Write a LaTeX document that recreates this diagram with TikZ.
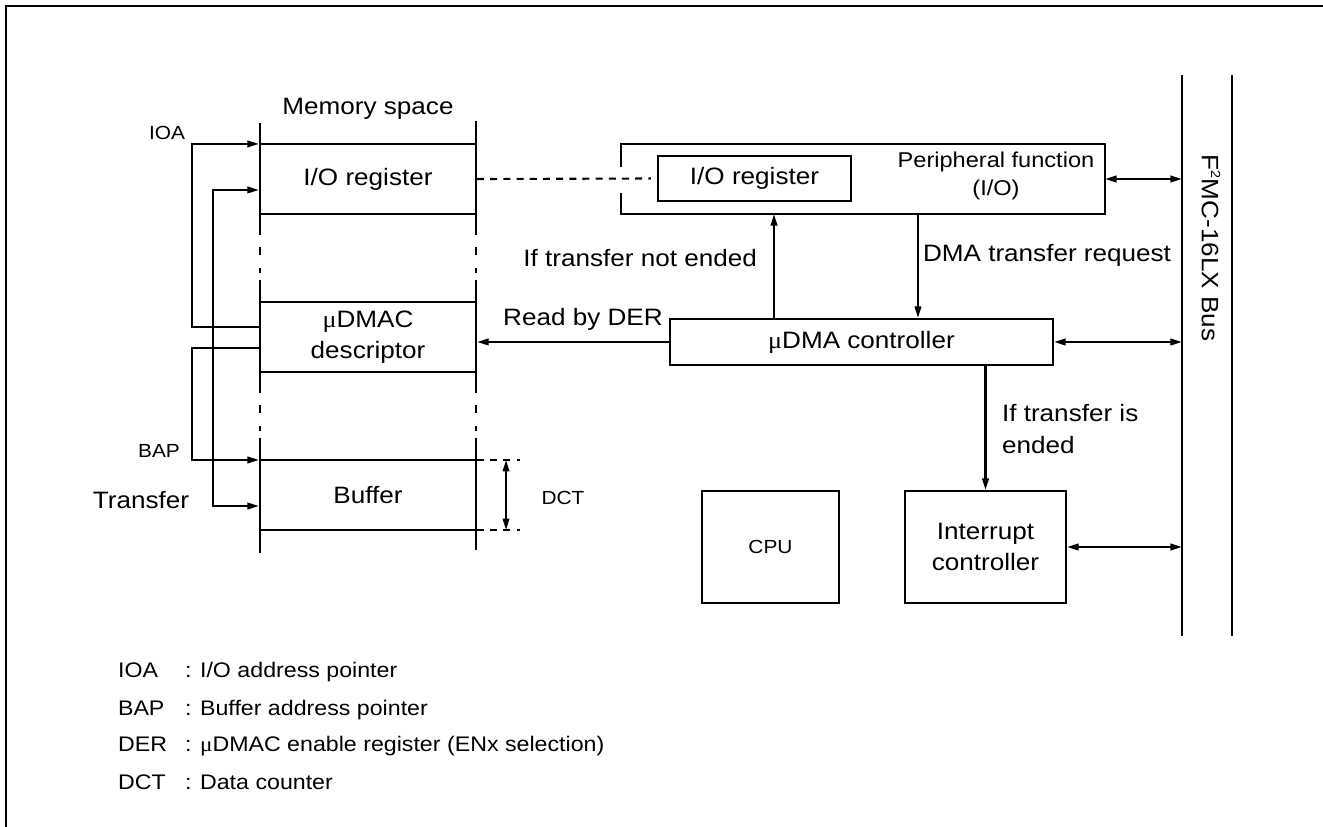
\documentclass[tikz,border=0pt]{standalone}
\usepackage{fontspec}
\setmainfont[FakeStretch=1.1]{Liberation Sans}
\newfontfamily\greekmu[FakeStretch=1.1]{Liberation Serif}
\usetikzlibrary{arrows.meta}
\newcommand{\umu}{{\greekmu μ}}
\tikzset{
  >={Triangle[length=2.3mm,width=1.3mm]},
  txt/.style={inner sep=0pt, align=center, font=\fontsize{13.5}{17.8}\selectfont},
  smalltxt/.style={inner sep=0pt, font=\fontsize{10.8}{13}\selectfont},
  legendtxt/.style={inner sep=0pt, anchor=base west, font=\fontsize{12}{14}\selectfont},
  box/.style={draw, inner sep=0pt, align=center, font=\fontsize{13.5}{17.8}\selectfont},
  memrow/.style={minimum width=4.32cm, minimum height=1.36cm, inner sep=0pt, align=center, font=\fontsize{13.5}{17.8}\selectfont},
  dashpat/.style={dash pattern=on 4pt off 3.5pt},
  breakpat/.style={dash pattern=on 0pt off 6.8pt on 4.5pt off 7.4pt on 2.8pt off 4pt}
}
\begin{document}
\begin{tikzpicture}[x=0.02cm, y=-0.02cm, line width=1.2pt]
\useasboundingbox (0,0) rectangle (1323,827);
\draw[line width=1.7pt] (1323,6) -- (6,6) -- (6,827);

% memory space
\node[txt] (memspace) at (368,109) {Memory space};
\node[memrow] (memio) at (368,179) {I/O register};
\node[memrow] (memdesc) at (368,337) {\umu DMAC\\descriptor};
\node[memrow] (membuf) at (368,495) {Buffer};
\foreach \n in {memio,memdesc,membuf}
  \draw (\n.north west) -- (\n.north east) (\n.south west) -- (\n.south east);
\foreach \x/\top/\bot in {260/123/553, 476/121/550} {
  \draw[line width=1.4pt] (\x,\top) -- (\x,235) (\x,280) -- (\x,393) (\x,438) -- (\x,\bot);
  \draw[line width=1.4pt, breakpat] (\x,235) -- (\x,280) (\x,393) -- (\x,438);
}

% pointers
\node[smalltxt] (ioa) at (167,133) {IOA};
\node[smalltxt] (bap) at (159,451) {BAP};
\node[txt] (transfer) at (141,500) {Transfer};
\draw[->] ([yshift=0.2cm]memdesc.west) -- ++(-67,0) |- (memio.north west);
\draw[->] ([yshift=-0.22cm]memdesc.west) -- ++(-67,0) |- (membuf.north west);
\draw[<->] ([yshift=-0.22cm]memio.west) -- ++(-46,0) |- ([yshift=-0.22cm]membuf.west);

% data counter
\draw[dashpat] (membuf.north east) -- ++(43,0) (membuf.south east) -- ++(43,0);
\draw[<->] ([xshift=0.58cm]membuf.north east) -- ([xshift=0.58cm]membuf.south east);
\node[smalltxt] (dct) at (563,498) {DCT};

% peripheral
\node[minimum width=9.64cm, minimum height=1.36cm, inner sep=0pt] (periph) at (863,179) {};
\draw (periph.north west) ++(0,23) |- (periph.north east) |- (periph.south west) -- ++(0,-21);
\node[box, minimum width=3.86cm, minimum height=0.9cm] (ioreg) at (754.5,178.5) {I/O register};
\node[align=center, inner sep=0pt, font=\fontsize{12.2}{16.4}\selectfont] (periphtxt) at (996,176) {Peripheral function\\(I/O)};
\draw[dashpat, shorten >=0.12cm] (memio.east) -- (ioreg.west);

% controllers
\node[box, minimum width=7.66cm, minimum height=0.92cm] (udma) at (861.5,342) {\umu DMA controller};
\node[box, minimum width=2.74cm, minimum height=2.24cm, font=\fontsize{10.8}{13}\selectfont] (cpu) at (770.5,547) {CPU};
\node[box, minimum width=3.22cm, minimum height=2.24cm] (intc) at (985.5,547) {Interrupt\\controller};

% bus
\node[minimum width=0.96cm, minimum height=11.18cm, inner sep=0pt] (bus) at (1207,355.5) {};
\draw[line width=1.4pt] (bus.north west) -- (bus.south west) (bus.north east) -- (bus.south east);
\node[txt, rotate=-90] (busname) at (1211,248) {F\raisebox{0.75ex}{\fontsize{7.5}{8}\selectfont 2}MC-16LX Bus};
\draw[<->] (periph.east) -- (periph.east -| bus.west);
\draw[<->] (udma.east) -- (udma.east -| bus.west);
\draw[<->] (intc.east) -- (intc.east -| bus.west);

% flow
\coordinate (notend) at ([xshift=-1.75cm]udma.north);
\coordinate (request) at ([xshift=1.13cm]udma.north);
\draw[->] (notend) -- (notend |- periph.south);
\draw[->] (request |- periph.south) -- (request);
\draw[->] (intc.north |- udma.south) -- (intc.north);
\draw[->] (udma.west) -- (udma.west -| memdesc.east);
\node[txt, anchor=east] (notendlbl) at (758,258) {If transfer not ended};
\node[txt, anchor=west] (requestlbl) at (922,255) {DMA transfer request};
\node[txt] (derlbl) at (583,319) {Read by DER};
\node[txt, anchor=west, align=left] (endlbl) at (1001,429) {If transfer is\\ended};

% legend
\node[legendtxt] (ioakey) at (117,678) {IOA};
\node[legendtxt] (ioadef) at (184,678) {: I/O address pointer};
\node[legendtxt] (bapkey) at (117,715) {BAP};
\node[legendtxt] (bapdef) at (184,715) {: Buffer address pointer};
\node[legendtxt] (derkey) at (117,751) {DER};
\node[legendtxt] (derdef) at (184,751) {: \umu DMAC enable register (ENx selection)};
\node[legendtxt] (dctkey) at (117,789) {DCT};
\node[legendtxt] (dctdef) at (184,789) {: Data counter};
\end{tikzpicture}
\end{document}
